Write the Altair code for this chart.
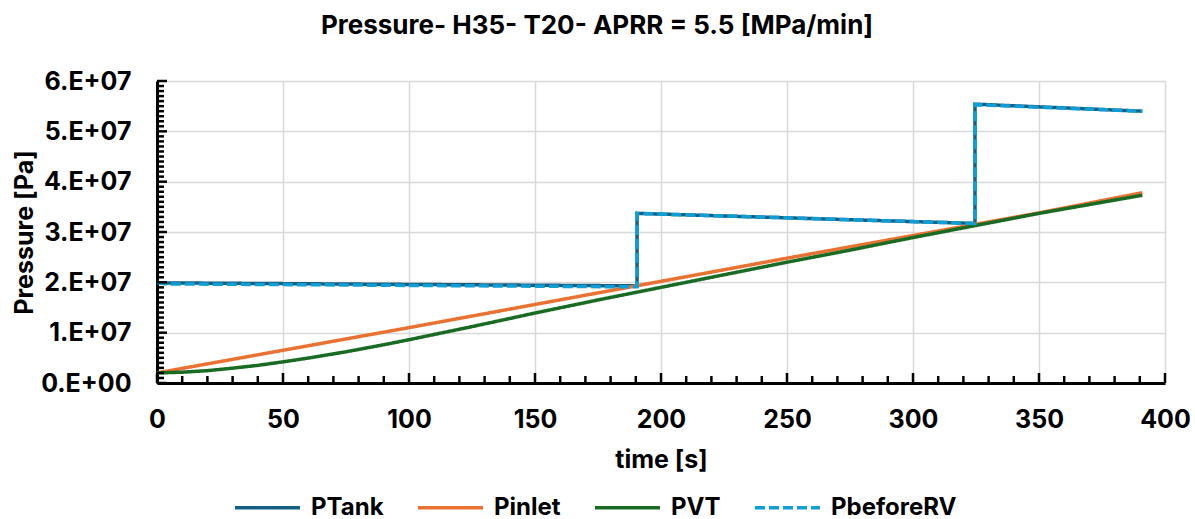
import altair as alt
import pandas as pd

# Pressure series (time in s, pressure in Pa); repeated times mark the step changes
tank_t = [0, 190.5, 190.5, 324.6, 324.6, 391]
tank_p = [1.99e7, 1.93e7, 3.37e7, 3.17e7, 5.54e7, 5.40e7]

rv_t = [0, 3, 190.5, 190.5, 324.6, 324.6, 391]
rv_p = [2.0e7, 1.97e7, 1.91e7, 3.37e7, 3.17e7, 5.53e7, 5.40e7]

inlet_t = [0, 50, 100, 150, 200, 250, 300, 350, 391]
inlet_p = [2.0e6, 6.5e6, 1.10e7, 1.56e7, 2.02e7, 2.48e7, 2.93e7, 3.38e7, 3.78e7]

vt_t = [0, 10, 20, 30, 40, 50, 60, 75, 90, 100, 125, 150, 175, 200, 225, 250,
        275, 300, 325, 350, 375, 391]
vt_p = [2.0e6, 2.15e6, 2.45e6, 2.95e6, 3.5e6, 4.2e6, 4.95e6, 6.2e6, 7.6e6, 8.6e6,
        1.12e7, 1.39e7, 1.65e7, 1.90e7, 2.15e7, 2.40e7, 2.64e7, 2.89e7, 3.13e7,
        3.37e7, 3.59e7, 3.73e7]

series = ["PTank", "Pinlet", "PVT", "PbeforeRV"]
colors = ["#156082", "#E97132", "#196B24", "#0F9ED5"]
dashes = [[1, 0], [1, 0], [1, 0], [10, 4]]

FONT = "Inter"
FS = 25
W, H = 1008, 302


def frame(name, t, p):
    return pd.DataFrame({"series": name, "t": t, "p": p, "i": range(len(t))})


df_base = pd.concat([
    frame("PTank", tank_t, tank_p),
    frame("Pinlet", inlet_t, inlet_p),
    frame("PVT", vt_t, vt_p),
])
df_rv = frame("PbeforeRV", rv_t, rv_p)

x_scale = alt.Scale(domain=[0, 400], nice=False, zero=True)
y_scale = alt.Scale(domain=[0, 6e7], nice=False)

x_axis = alt.Axis(
    values=list(range(0, 401, 50)), title="time [s]", ticks=False,
    domainColor="black", domainWidth=3, gridColor="#d9d9d9", gridWidth=1.5,
    labelFont=FONT, labelFontSize=FS, labelFontWeight="bold", labelColor="black",
    labelPadding=24, titleFont=FONT, titleFontSize=FS, titleFontWeight="bold",
    titleColor="black", titlePadding=15, labelFlush=False,
)
y_axis = alt.Axis(
    values=[i * 1e7 for i in range(7)], title="Pressure [Pa]", ticks=False,
    domainColor="black", domainWidth=3, gridColor="#d9d9d9", gridWidth=1.5,
    labelExpr="datum.value === 0 ? '0.E+00' : (datum.value / 1e7) + '.E+07'",
    labelFont=FONT, labelFontSize=FS, labelFontWeight="bold", labelColor="black",
    labelPadding=26, titleFont=FONT, titleFontSize=FS, titleFontWeight="bold",
    titleColor="black", titlePadding=3,
)

legend = alt.Legend(
    title=None, orient="none", legendX=76, legendY=392, direction="horizontal",
    symbolType="stroke", symbolSize=4225, symbolStrokeWidth=3.5,
    labelFont=FONT, labelFontSize=24, labelFontWeight="bold", labelColor="black",
    labelOffset=9, columnPadding=27, labelLimit=300,
)
color = alt.Color("series:N", scale=alt.Scale(domain=series, range=colors), legend=legend)
dash = alt.StrokeDash("series:N", scale=alt.Scale(domain=series, range=dashes), legend=legend)

base = alt.Chart(df_base).mark_line(strokeWidth=3.5).encode(
    x=alt.X("t:Q", scale=x_scale, axis=x_axis),
    y=alt.Y("p:Q", scale=y_scale, axis=y_axis),
    color=color, strokeDash=dash, order="i:Q", detail="series:N",
)
rv = alt.Chart(df_rv).mark_line(strokeWidth=3.5).encode(
    x=alt.X("t:Q", scale=x_scale),
    y=alt.Y("p:Q", scale=y_scale),
    color=color, strokeDash=dash, order="i:Q",
)

# inward tick marks along both axes (major every 1e7 / 50 s, minor every 1e6 / 10 s)
y_major = pd.DataFrame({"v": [k * 1e7 for k in range(7)]})
y_minor = pd.DataFrame({"v": [k * 1e6 for k in range(61) if k % 10]})
x_major = pd.DataFrame({"v": list(range(0, 401, 50))})
x_minor = pd.DataFrame({"v": [v for v in range(0, 401, 10) if v % 50]})


def y_tick_layer(df, length):
    return alt.Chart(df).mark_rule(color="black", strokeWidth=2.5).encode(
        y=alt.Y("v:Q", scale=y_scale), x=alt.value(0), x2=alt.value(length),
    )


def x_tick_layer(df, length):
    return alt.Chart(df).mark_rule(color="black", strokeWidth=2.5).encode(
        x=alt.X("v:Q", scale=x_scale), y=alt.value(H), y2=alt.value(H - length),
    )


chart = alt.layer(
    base, rv,
    y_tick_layer(y_major, 10), y_tick_layer(y_minor, 7),
    x_tick_layer(x_major, 10), x_tick_layer(x_minor, 7),
).properties(
    width=W, height=H,
    padding={"left": 157, "top": 81, "right": 30, "bottom": 136},
    autosize=alt.AutoSizeParams(type="none"),
    title=alt.TitleParams(
        "Pressure- H35- T20- APRR = 5.5 [MPa/min]", font=FONT, fontSize=26,
        fontWeight="bold", color="black", anchor="middle", dx=-64, offset=30,
    ),
).configure_view(stroke=None).configure(background="white")

chart.save("out.html", embed_options={"renderer": "svg", "actions": False})
